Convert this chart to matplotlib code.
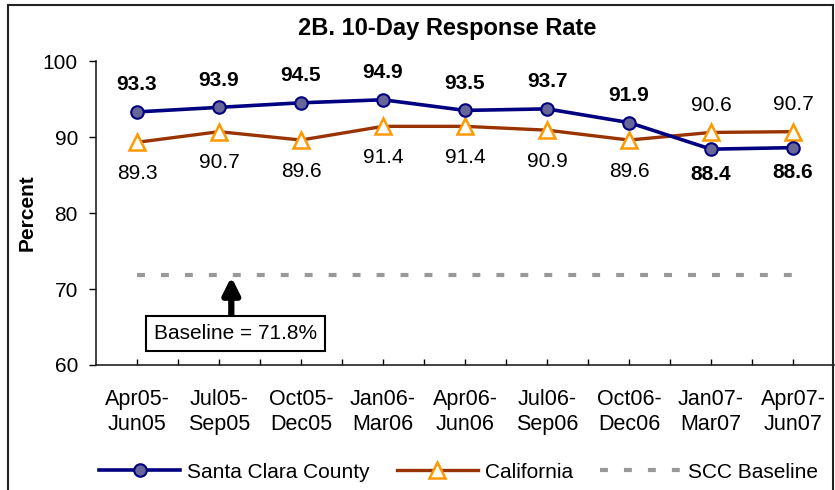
import matplotlib
matplotlib.use("Agg")
import matplotlib.pyplot as plt
from matplotlib.patches import Rectangle
from matplotlib.lines import Line2D

plt.rcParams['font.family'] = ['Liberation Sans', 'DejaVu Sans']

categories = ["Apr05-\nJun05", "Jul05-\nSep05", "Oct05-\nDec05", "Jan06-\nMar06",
              "Apr06-\nJun06", "Jul06-\nSep06", "Oct06-\nDec06", "Jan07-\nMar07",
              "Apr07-\nJun07"]
scc = [93.3, 93.9, 94.5, 94.9, 93.5, 93.7, 91.9, 88.4, 88.6]
california = [89.3, 90.7, 89.6, 91.4, 91.4, 90.9, 89.6, 90.6, 90.7]
baseline = 71.8
yticks = [60, 70, 80, 90, 100]

W, H = 835, 490
fig = plt.figure(figsize=(W / 100, H / 100), dpi=100)
ax = fig.add_axes([96 / W, 1 - 365 / H, (834 - 96) / W, (365 - 61) / H])

x = list(range(len(categories)))
navy = "#000080"
brown = "#993300"
orange = "#FF9900"
dash = (1.9, 3.85)

ax.plot(x, [baseline] * len(x), color="#999999", lw=3, dashes=dash, zorder=1)
ax.plot(x, california, color=brown, lw=2.4, marker="^", ms=11, mfc="white",
        mec=orange, mew=1.8, zorder=3)
ax.plot(x, scc, color=navy, lw=2.6, marker="o", ms=9, mfc="#666699",
        mec=navy, mew=1.5, zorder=4)

for i, (s, c) in enumerate(zip(scc, california)):
    if s >= c:
        ax.annotate(f"{s:.1f}", (i, s), xytext=(0, 27), textcoords="offset pixels",
                    ha="center", va="center", fontsize=15, fontweight="bold")
        ax.annotate(f"{c:.1f}", (i, c), xytext=(0, -31), textcoords="offset pixels",
                    ha="center", va="center", fontsize=15)
    else:
        ax.annotate(f"{s:.1f}", (i, s), xytext=(0, -25), textcoords="offset pixels",
                    ha="center", va="center", fontsize=15, fontweight="bold")
        ax.annotate(f"{c:.1f}", (i, c), xytext=(0, 27), textcoords="offset pixels",
                    ha="center", va="center", fontsize=15)

ax.set_xlim(-0.5, len(categories) - 0.5)
ax.set_ylim(60, 100)
ax.set_yticks(yticks)
ax.set_yticklabels([str(v) for v in yticks], fontsize=15)
ax.set_xticks(x)
ax.set_xticklabels(categories, fontsize=15.5, linespacing=1.3)
ax.set_xticks([i + 0.5 for i in range(len(categories) - 1)], minor=True)
ax.tick_params(axis="x", which="both", direction="in", length=4, width=1, pad=17)
ax.tick_params(axis="y", direction="out", length=5, width=1, pad=8)
for s in ["top", "right"]:
    ax.spines[s].set_visible(False)
for s in ["left", "bottom"]:
    ax.spines[s].set_color("#222222")
    ax.spines[s].set_linewidth(1.2)

# baseline annotation
ax.annotate("", xy=(1.15, 71.6), xytext=(1.15, 66.4),
            arrowprops=dict(arrowstyle="-|>,head_length=1.0,head_width=0.5",
                            color="black", lw=4.5, shrinkA=0, shrinkB=0))
ax.text(1.2, 64.1, "Baseline = 71.8%", ha="center", va="center", fontsize=15,
        bbox=dict(boxstyle="square,pad=0.38", fc="white", ec="black", lw=1.5))

fig.text(447 / W, 1 - 28 / H, "2B. 10-Day Response Rate", ha="center", va="center",
         fontsize=17, fontweight="bold")
fig.text(27 / W, 1 - 213 / H, "Percent", ha="center", va="center", rotation=90,
         fontsize=15, fontweight="bold")

handles = [
    Line2D([], [], color=navy, lw=2.6, marker="o", ms=9, mfc="#666699", mec=navy, mew=1.5),
    Line2D([], [], color=brown, lw=2.4, marker="^", ms=11, mfc="white", mec=orange, mew=1.8),
    Line2D([], [], color="#999999", lw=3, dashes=dash),
]
fig.legend(handles, ["Santa Clara County", "California", "SCC Baseline"],
           loc="center left", bbox_to_anchor=(99 / W, 1 - 472 / H), ncol=3,
           frameon=False, fontsize=15, handlelength=3.9, handletextpad=0.33,
           columnspacing=1.3, borderaxespad=0, borderpad=0)

fig.patches.append(Rectangle((8 / W, -0.05), (833 - 8) / W, 1.05 - 5 / H,
                             transform=fig.transFigure, fill=False, ec="#222222",
                             lw=1.5, zorder=10))

fig.savefig("out.png", dpi=100)
